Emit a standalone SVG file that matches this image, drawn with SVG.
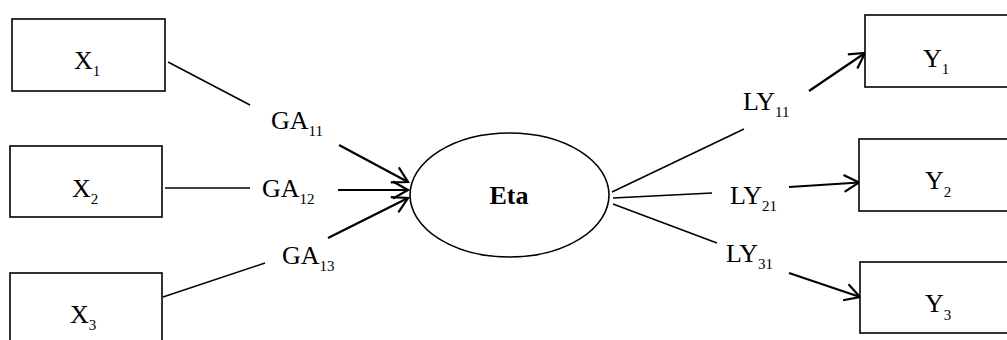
<svg xmlns="http://www.w3.org/2000/svg" width="1007" height="340" viewBox="0 0 1007 340">
<style>
.box{fill:#fff;stroke:#000;stroke-width:1.6}
.t{font-family:"Liberation Serif","Times New Roman",serif;font-size:26px;fill:#000}
.s{font-size:15px}
.b{font-weight:bold}
.ln{stroke:#000;stroke-width:1.5;fill:none}
.ar{stroke:#000;stroke-width:2.2;fill:none;marker-end:url(#ah)}
</style>
<defs>
<marker id="ah" markerUnits="userSpaceOnUse" viewBox="-20 -12 24 24" refX="0" refY="0" markerWidth="24" markerHeight="24" orient="auto" overflow="visible">
<path d="M-15,-8.5 L0,0 L-15,8.5" fill="none" stroke="#000" stroke-width="2.2"/>
</marker>
</defs>
<rect width="1007" height="340" fill="#fff"/>
<g id="connectors">
<line class="ln" x1="168" y1="62" x2="250" y2="105"/>
<line class="ar" x1="339" y1="145" x2="408" y2="182"/>
<line class="ln" x1="165" y1="188" x2="250" y2="188"/>
<line class="ar" x1="338" y1="190" x2="408" y2="190"/>
<line class="ln" x1="163" y1="297" x2="265" y2="263"/>
<line class="ar" x1="328" y1="238" x2="408" y2="198"/>
<line class="ln" x1="612" y1="192" x2="744" y2="129"/>
<line class="ar" x1="809" y1="91" x2="865" y2="53"/>
<line class="ln" x1="613" y1="198" x2="712" y2="193"/>
<line class="ar" x1="789" y1="187" x2="859" y2="182.5"/>
<line class="ln" x1="613" y1="204" x2="717" y2="243"/>
<line class="ar" x1="789" y1="273" x2="860" y2="297"/>
<text class="t" x="271" y="129">GA<tspan class="s" dy="7">11</tspan></text>
<text class="t" x="262" y="197">GA<tspan class="s" dy="7">12</tspan></text>
<text class="t" x="282" y="264">GA<tspan class="s" dy="7">13</tspan></text>
<text class="t" x="743" y="110">LY<tspan class="s" dy="7">11</tspan></text>
<text class="t" x="730" y="204">LY<tspan class="s" dy="7">21</tspan></text>
<text class="t" x="726" y="262">LY<tspan class="s" dy="7">31</tspan></text>
</g>
<g id="X1"><rect class="box" x="12" y="19" width="153" height="72"/><text class="t" x="74" y="69">X<tspan class="s" dy="7">1</tspan></text></g>
<g id="X2"><rect class="box" x="10" y="146" width="152" height="71"/><text class="t" x="72" y="197">X<tspan class="s" dy="7">2</tspan></text></g>
<g id="X3"><rect class="box" x="10" y="273" width="152" height="72"/><text class="t" x="70" y="323">X<tspan class="s" dy="7">3</tspan></text></g>
<g id="Eta"><ellipse cx="509.5" cy="195" rx="99.5" ry="62" fill="#fff" stroke="#000" stroke-width="1.6"/><text class="t b" x="509" y="204" text-anchor="middle">Eta</text></g>
<g id="Y1"><rect class="box" x="865" y="15" width="160" height="72"/><text class="t" x="923" y="67">Y<tspan class="s" dy="7">1</tspan></text></g>
<g id="Y2"><rect class="box" x="859" y="139" width="160" height="72"/><text class="t" x="925" y="189">Y<tspan class="s" dy="8">2</tspan></text></g>
<g id="Y3"><rect class="box" x="860" y="262" width="160" height="71"/><text class="t" x="925" y="312">Y<tspan class="s" dy="8">3</tspan></text></g>
</svg>
